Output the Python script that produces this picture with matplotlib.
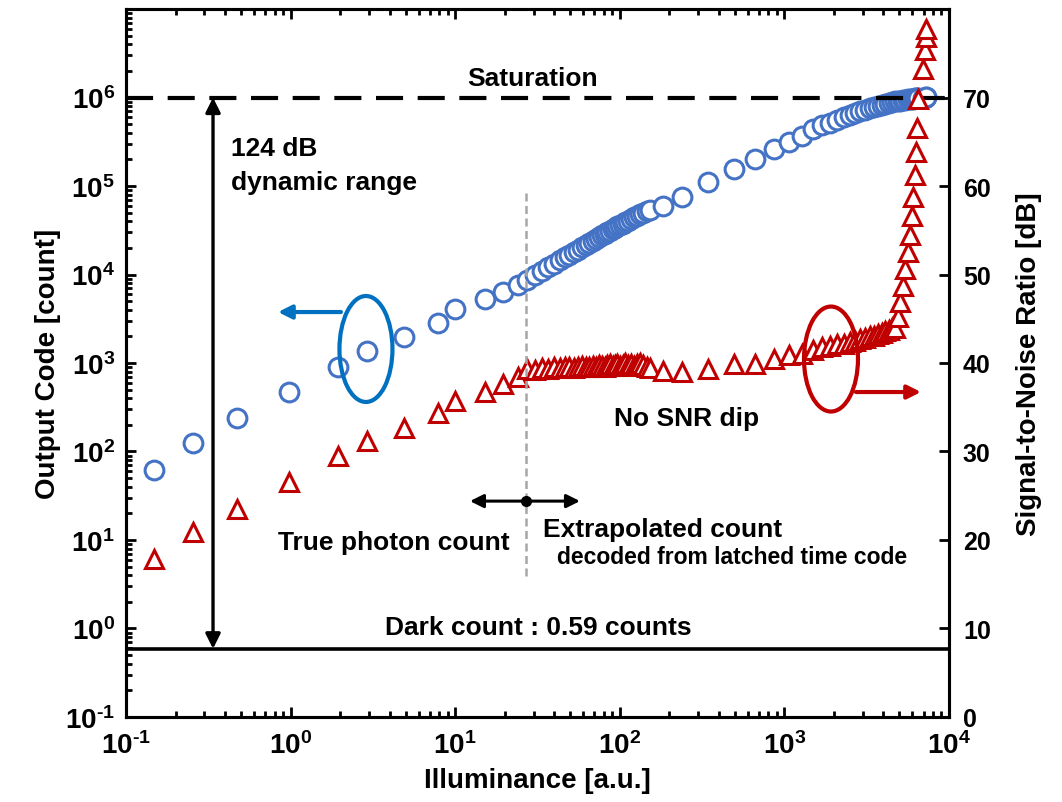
import matplotlib
matplotlib.use("Agg")
import matplotlib.pyplot as plt
from matplotlib.patches import Ellipse
from matplotlib.ticker import FuncFormatter, LogLocator, FixedLocator, NullLocator
import numpy as np

plt.rcParams["font.family"] = ["Liberation Sans", "DejaVu Sans"]
plt.rcParams["font.weight"] = "bold"
plt.rcParams["mathtext.fontset"] = "custom"
plt.rcParams["mathtext.rm"] = "Liberation Sans:bold"
plt.rcParams["mathtext.bf"] = "Liberation Sans:bold"
plt.rcParams["mathtext.it"] = "Liberation Sans:bold"

# illuminance [a.u.] shared by both series
illum = [0.148, 0.255, 0.47, 0.98, 1.94, 2.91, 4.9, 7.9, 10.0, 15.2, 19.5, 24.0, 27.3,
         30.5, 33.6, 36.8, 40.0, 43.1, 46.3, 49.4, 52.6, 55.8, 58.9, 62.1, 65.2, 68.4,
         71.6, 74.7, 77.9, 81.0, 84.2, 87.4, 90.5, 93.7, 96.8, 100, 104, 108, 112, 117,
         122, 127, 133, 139, 146, 152,
         183, 239, 344, 494, 663, 865, 1067, 1279, 1493, 1692,
         1890, 2090, 2290, 2490, 2690, 2890, 3090, 3290, 3490, 3690, 3890, 4090, 4290,
         4490, 4690,
         4900, 5040, 5250, 5400, 5630, 5790, 5960, 6040, 6210, 6300, 6400, 6480, 6950,
         7150, 7200, 7240]

# output code [count]
counts = [61, 124, 237, 475, 910, 1380, 1990, 2840, 4070, 5300, 6300, 7600, 8700,
          9900, 11000, 12100, 13300, 14400, 15600, 16800, 17900, 19100, 20300, 21500,
          22700, 23900, 25200, 26400, 27600, 28800, 30000, 31300, 32500, 33700, 34900,
          36100, 37600, 39000, 40500, 42300, 44100, 45800, 47800, 49900, 52200, 54100,
          60000, 76000, 110000, 155000, 204000, 265000, 317000, 372000, 446000, 495000,
          520000, 558000, 596000, 632000, 664000, 697000, 726000, 753000, 779000, 803000,
          826000, 848000, 868000, 886000, 903000,
          915000, 925000, 936000, 945000, 955000, 962000, 968000, 972000, 977000, 981000,
          985000, 988000, 995000, 1000000, 1003000, 1006000]

# signal-to-noise ratio [dB]
snr = [17.8, 20.9, 23.5, 26.5, 29.5, 31.2, 32.7, 34.4, 35.7, 36.7, 37.6, 38.4, 39.3,
       39.2, 39.4, 39.3, 39.5, 39.4, 39.6, 39.5, 39.4, 39.6, 39.7, 39.5, 39.6, 39.7,
       39.6, 39.8, 39.7, 39.6, 39.8, 39.9, 39.7, 39.8, 39.9, 39.7, 39.8, 40.0, 39.8,
       39.9, 39.7, 39.9, 40.0, 39.8, 39.6, 39.4,
       39.1, 39.0, 39.3, 39.9, 39.9, 40.4, 40.9, 41.0, 41.5, 41.8,
       41.9, 42.1, 42.2, 42.4, 42.5, 42.7, 42.8, 43.0, 43.1, 43.3, 43.4, 43.6, 43.7,
       43.9, 44.0,
       45.2, 46.9, 48.7, 50.6, 52.5, 54.5, 56.6, 58.8, 61.3, 63.8, 66.6, 69.8, 73.2,
       75.4, 76.8, 77.7]

saturation = 1e6
dark_count = 0.59

blue = "#4472C4"
red = "#C00000"
ell_blue = "#0070C0"


def pow10(v, pos):
    e = int(round(np.log10(v)))
    if e < 0:
        return r"$10^{\text{-}%d}$" % (-e)
    return r"$10^{%d}$" % e


fig = plt.figure(figsize=(10.62, 8.03), dpi=100)
ax = fig.add_axes([0.1186, 0.1059, 0.775, 0.8816])
ax2 = ax.twinx()

ax.plot(illum, counts, ls="none", marker="o", ms=13.5, mfc="white", mec=blue, mew=2.2)
ax2.plot(illum, snr, ls="none", marker="^", ms=13.5, mfc="white", mec=red, mew=2.2)

ax.set_xscale("log")
ax.set_yscale("log")
ax.set_xlim(0.1, 1e4)
ax.set_ylim(0.1, 1e7)
ax2.set_ylim(0, 80)

fmt = FuncFormatter(pow10)
ax.xaxis.set_major_locator(LogLocator(base=10, numticks=20))
ax.xaxis.set_minor_locator(LogLocator(base=10, subs=np.arange(2, 10), numticks=20))
ax.xaxis.set_major_formatter(fmt)
ax.yaxis.set_major_locator(FixedLocator([1e-1, 1e0, 1e1, 1e2, 1e3, 1e4, 1e5, 1e6]))
ax.yaxis.set_minor_locator(LogLocator(base=10, subs=np.arange(2, 10), numticks=20))
ax.yaxis.set_major_formatter(fmt)
ax2.yaxis.set_major_locator(FixedLocator([0, 10, 20, 30, 40, 50, 60, 70]))
ax2.yaxis.set_minor_locator(NullLocator())

ax.tick_params(axis="x", which="both", direction="in", top=True, width=2)
ax.tick_params(axis="x", which="major", length=7, labelsize=20, pad=10)
ax.tick_params(axis="x", which="minor", length=4)
ax.tick_params(axis="y", which="both", direction="in", right=False, width=2)
ax.tick_params(axis="y", which="major", length=7, labelsize=20, pad=8)
ax.tick_params(axis="y", which="minor", length=4)
ax2.tick_params(axis="y", which="major", direction="in", length=7, width=2, labelsize=18, pad=10)

for a in (ax, ax2):
    for s in a.spines.values():
        s.set_linewidth(2.2)

ax.set_xlabel("Illuminance [a.u.]", fontsize=20, fontweight="bold", labelpad=6)
ax.set_ylabel("Output Code [count]", fontsize=20, fontweight="bold", labelpad=3)
ax2.set_ylabel("Signal-to-Noise Ratio [dB]", fontsize=20, fontweight="bold", labelpad=18)

T = ax.transData
fs = 19

# saturation and dark count levels
ax2.plot([0.1, 1e4], [saturation, saturation], color="black", lw=3, ls=(0, (6.5, 3.5)),
         transform=T, zorder=1)
ax2.plot([0.1, 1e4], [dark_count, dark_count], color="black", lw=2.6, transform=T)

# dynamic range arrow
ax2.annotate("", xy=(0.338, saturation), xytext=(0.338, dark_count), xycoords=T, textcoords=T,
             arrowprops=dict(arrowstyle="<|-|>", color="black", lw=2.4, mutation_scale=22,
                             shrinkA=0, shrinkB=0))
ax2.text(0.435, 2.7e5, "124 dB", transform=T, fontsize=fs, fontweight="bold", ha="left", va="center")
ax2.text(0.435, 1.12e5, "dynamic range", transform=T, fontsize=fs, fontweight="bold", ha="left", va="center")
ax2.text(29.7, 1.66e6, "Saturation", transform=T, fontsize=fs, fontweight="bold", ha="center", va="center")
ax2.text(31.8, 1.05, "Dark count : 0.59 counts", transform=T, fontsize=fs, fontweight="bold",
         ha="center", va="center")

# boundary between true and extrapolated count
ax2.plot([26.9, 26.9], [3.9, 85000], color="#A6A6A6", lw=1.8, ls=(0, (3.2, 1.8)), transform=T, zorder=5)
ax2.annotate("", xy=(12.3, 27.5), xytext=(26.9, 27.5), xycoords=T, textcoords=T,
             arrowprops=dict(arrowstyle="-|>", color="black", lw=2.2, mutation_scale=20,
                             shrinkA=0, shrinkB=0))
ax2.annotate("", xy=(57.3, 27.5), xytext=(26.9, 27.5), xycoords=T, textcoords=T,
             arrowprops=dict(arrowstyle="-|>", color="black", lw=2.2, mutation_scale=20,
                             shrinkA=0, shrinkB=0))
ax2.plot([26.9], [27.5], marker="o", ms=7, color="black", transform=T, zorder=6)
ax2.text(4.25, 9.5, "True photon count", transform=T, fontsize=fs, fontweight="bold", ha="center", va="center")
ax2.text(34.1, 13.3, "Extrapolated count", transform=T, fontsize=fs, fontweight="bold", ha="left", va="center")
ax2.text(41.5, 6.45, "decoded from latched time code", transform=T, fontsize=16.5, fontweight="bold",
         ha="left", va="center")
ax2.text(256, 236, "No SNR dip", transform=T, fontsize=fs, fontweight="bold", ha="center", va="center")

# series markers: ellipses with arrows toward their axes
ax2.add_patch(Ellipse((0.2916, 0.5198), 0.0644, 0.1497, transform=ax.transAxes, fill=False,
                      ec=ell_blue, lw=3, zorder=6))
ax2.annotate("", xy=(0.1847, 0.572), xytext=(0.2612, 0.572), xycoords=ax.transAxes,
             textcoords=ax.transAxes,
             arrowprops=dict(arrowstyle="-|>", color=ell_blue, lw=3, mutation_scale=20,
                             shrinkA=0, shrinkB=0))
ax2.add_patch(Ellipse((0.8566, 0.5056), 0.0656, 0.1483, transform=ax.transAxes, fill=False,
                      ec=red, lw=3, zorder=6))
ax2.annotate("", xy=(0.966, 0.459), xytext=(0.887, 0.459), xycoords=ax.transAxes,
             textcoords=ax.transAxes,
             arrowprops=dict(arrowstyle="-|>", color=red, lw=3, mutation_scale=20,
                             shrinkA=0, shrinkB=0))

fig.savefig("out.png", dpi=100)
